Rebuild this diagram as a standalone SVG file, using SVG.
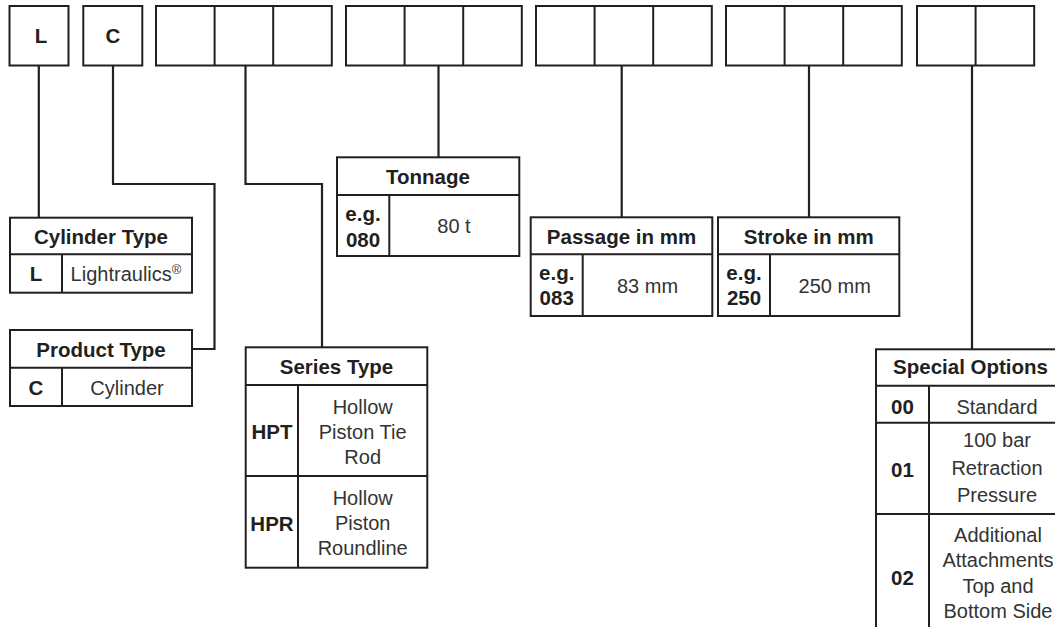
<svg xmlns="http://www.w3.org/2000/svg" width="1055" height="627" viewBox="0 0 1055 627">
<style>
  .box { fill: #ffffff; stroke: #231f20; stroke-width: 2; }
  .ln { fill: none; stroke: #231f20; stroke-width: 2; }
  .con { fill: none; stroke: #231f20; stroke-width: 2.2; }
  .b { font-family: "Liberation Sans", Arial, sans-serif; font-weight: bold; font-size: 20.5px; fill: #231f20; text-anchor: middle; }
  .v { font-family: "Liberation Sans", Arial, sans-serif; font-size: 20px; fill: #333333; text-anchor: middle; }
</style>
<rect width="1055" height="627" fill="#ffffff"/>

<g id="connectors">
  <path class="con" d="M38.8,65.5 V217.7"/>
  <path class="con" d="M113,65.5 V184 H214.5 V349 H192"/>
  <path class="con" d="M245.5,65.5 V184 H322 V347.3"/>
  <path class="con" d="M438.5,65.5 V157.3"/>
  <path class="con" d="M621.7,65.5 V217.3"/>
  <path class="con" d="M809,65.5 V217.3"/>
  <path class="con" d="M972,65.5 V349.3"/>
</g>

<g id="code-L">
  <rect class="box" x="9.5" y="6" width="59" height="59.5"/>
  <text class="b" x="41" y="43">L</text>
</g>
<g id="code-C">
  <rect class="box" x="83.3" y="6" width="59" height="59.5"/>
  <text class="b" x="113" y="43">C</text>
</g>
<g id="code-series">
  <rect class="box" x="156" y="6" width="175.8" height="59.5"/>
  <path class="ln" d="M214.6,6 V65.5 M273.2,6 V65.5"/>
</g>
<g id="code-tonnage">
  <rect class="box" x="346" y="6" width="175.8" height="59.5"/>
  <path class="ln" d="M404.6,6 V65.5 M463.2,6 V65.5"/>
</g>
<g id="code-passage">
  <rect class="box" x="536" y="6" width="175.8" height="59.5"/>
  <path class="ln" d="M594.6,6 V65.5 M653.2,6 V65.5"/>
</g>
<g id="code-stroke">
  <rect class="box" x="726" y="6" width="175.8" height="59.5"/>
  <path class="ln" d="M784.6,6 V65.5 M843.2,6 V65.5"/>
</g>
<g id="code-options">
  <rect class="box" x="917" y="6" width="117.2" height="59.5"/>
  <path class="ln" d="M975.6,6 V65.5"/>
</g>

<g id="cylinder-type">
  <rect class="box" x="10" y="217.7" width="182" height="75"/>
  <path class="ln" d="M10,254.3 H192 M62,254.3 V292.7"/>
  <text class="b" x="101" y="244">Cylinder Type</text>
  <text class="b" x="36" y="281">L</text>
  <text class="v" x="126" y="281">Lightraulics<tspan font-size="13" dy="-7">®</tspan></text>
</g>

<g id="product-type">
  <rect class="box" x="10" y="330" width="182" height="76"/>
  <path class="ln" d="M10,367.7 H192 M62,367.7 V406"/>
  <text class="b" x="101" y="357">Product Type</text>
  <text class="b" x="36" y="395">C</text>
  <text class="v" x="127" y="395">Cylinder</text>
</g>

<g id="series-type">
  <rect class="box" x="245.7" y="347.3" width="181.6" height="220.4"/>
  <path class="ln" d="M245.7,385 H427.3 M245.7,476 H427.3 M298,385 V567.7"/>
  <text class="b" x="336.5" y="374">Series Type</text>
  <text class="b" x="272" y="439">HPT</text>
  <text class="v" x="362.7" y="414">Hollow</text>
  <text class="v" x="362.7" y="439">Piston Tie</text>
  <text class="v" x="362.7" y="464">Rod</text>
  <text class="b" x="272" y="530.5">HPR</text>
  <text class="v" x="362.7" y="505">Hollow</text>
  <text class="v" x="362.7" y="530">Piston</text>
  <text class="v" x="362.7" y="555">Roundline</text>
</g>

<g id="tonnage">
  <rect class="box" x="337" y="157.3" width="182.3" height="98.7"/>
  <path class="ln" d="M337,195 H519.3 M389.3,195 V256"/>
  <text class="b" x="428" y="184">Tonnage</text>
  <text class="b" x="363" y="221">e.g.</text>
  <text class="b" x="363" y="246.5">080</text>
  <text class="v" x="454" y="233.3">80 t</text>
</g>

<g id="passage">
  <rect class="box" x="530.7" y="217.3" width="181.6" height="98.7"/>
  <path class="ln" d="M530.7,254.3 H712.3 M582.7,254.3 V316"/>
  <text class="b" x="621.5" y="244">Passage in mm</text>
  <text class="b" x="556.7" y="279.5">e.g.</text>
  <text class="b" x="556.7" y="305">083</text>
  <text class="v" x="647.5" y="293.3">83 mm</text>
</g>

<g id="stroke">
  <rect class="box" x="718" y="217.3" width="181.3" height="98.7"/>
  <path class="ln" d="M718,254.3 H899.3 M770,254.3 V316"/>
  <text class="b" x="808.7" y="244">Stroke in mm</text>
  <text class="b" x="744" y="279.5">e.g.</text>
  <text class="b" x="744" y="305">250</text>
  <text class="v" x="834.7" y="293.3">250 mm</text>
</g>

<g id="special-options">
  <rect class="box" x="876" y="349.3" width="189" height="300"/>
  <path class="ln" d="M876,385.7 H1065 M876,422.7 H1065 M876,514 H1065 M929,385.7 V649.3"/>
  <text class="b" x="970.5" y="373.5">Special Options</text>
  <text class="b" x="902.5" y="413.5">00</text>
  <text class="v" x="997" y="413.5">Standard</text>
  <text class="b" x="902.5" y="477">01</text>
  <text class="v" x="997" y="447">100 bar</text>
  <text class="v" x="997" y="475">Retraction</text>
  <text class="v" x="997" y="502">Pressure</text>
  <text class="b" x="902.5" y="585">02</text>
  <text class="v" x="998" y="541.5">Additional</text>
  <text class="v" x="998" y="567">Attachments</text>
  <text class="v" x="998" y="592.5">Top and</text>
  <text class="v" x="998" y="618">Bottom Side</text>
</g>
</svg>
